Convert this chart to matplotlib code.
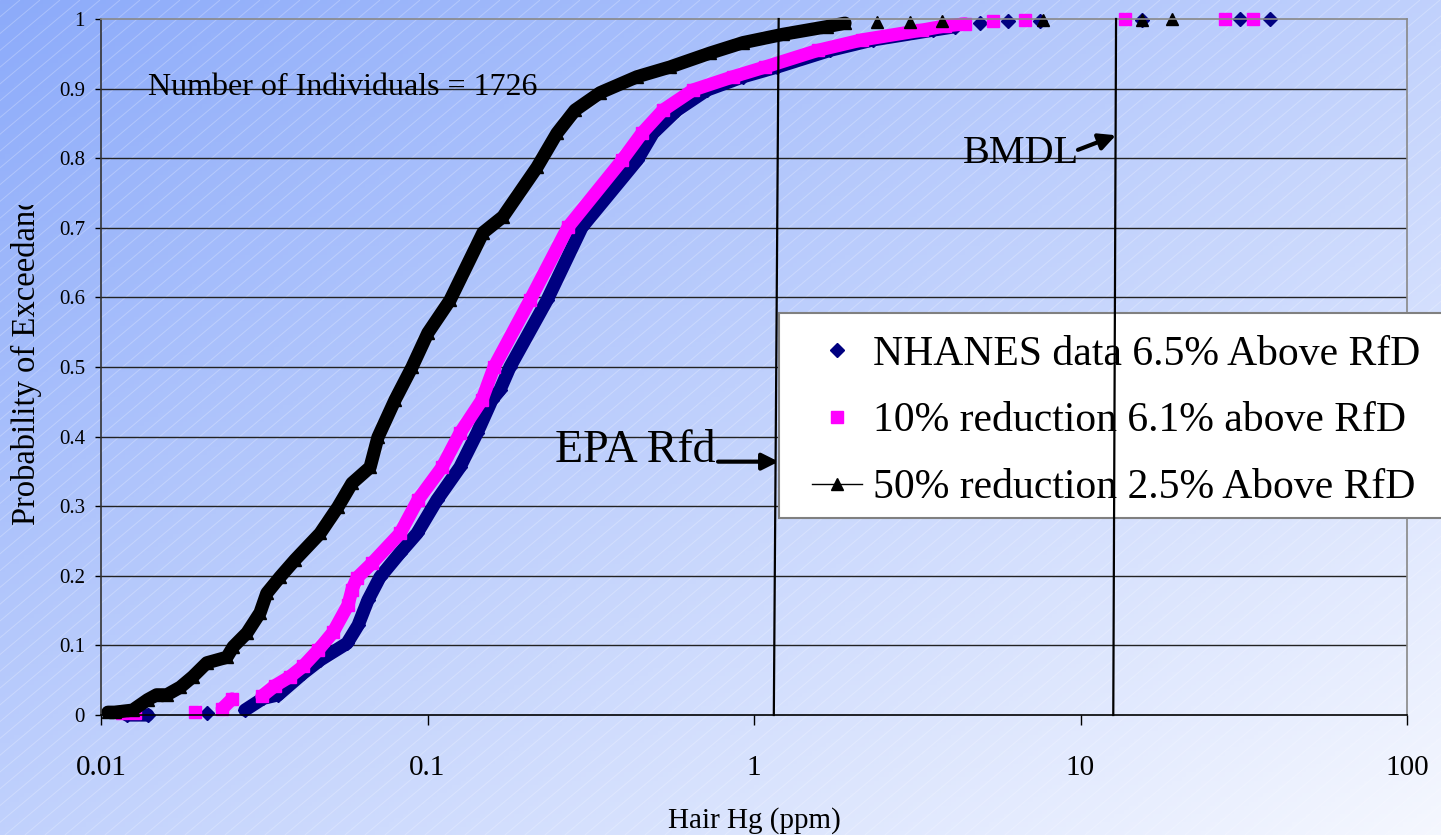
import numpy as np
import matplotlib.pyplot as plt
from matplotlib.lines import Line2D
from matplotlib.patches import Rectangle
from matplotlib.transforms import Bbox, TransformedBbox
from matplotlib.collections import LineCollection
from matplotlib.ticker import NullLocator

plt.rcParams['font.family'] = ['Liberation Serif', 'DejaVu Serif']

# hair Hg (ppm) and probability of exceedance
nhanes_x = [0.0120, 0.0139, 0.0211, 0.0276, 0.0314, 0.0349, 0.0416, 0.0469, 0.0567, 0.0613,
            0.0657, 0.0715, 0.0824, 0.0929, 0.1069, 0.1257, 0.1418, 0.1576, 0.1667, 0.1789,
            0.2323, 0.2973, 0.4383, 0.4906, 0.5809, 0.7180, 0.9254, 1.176, 1.709, 2.315,
            3.534, 4.127, 4.923, 6.000, 7.516, 15.43, 30.79, 38.05]
nhanes_y = [0.0, 0.0, 0.003, 0.007, 0.024, 0.029, 0.060, 0.079, 0.103, 0.129,
            0.165, 0.198, 0.233, 0.261, 0.309, 0.356, 0.405, 0.453, 0.467, 0.500,
            0.596, 0.701, 0.797, 0.836, 0.869, 0.898, 0.917, 0.931, 0.955, 0.970,
            0.984, 0.989, 0.994, 0.997, 0.997, 0.999, 1.0, 1.0]

red10_x = [0.0116, 0.0127, 0.0194, 0.0235, 0.0252, 0.0311, 0.0341, 0.0379, 0.0416, 0.0462,
           0.0514, 0.0571, 0.0587, 0.0608, 0.0676, 0.0824, 0.0935, 0.1108, 0.1257, 0.1469,
           0.1599, 0.2060, 0.2694, 0.3942, 0.4539, 0.5264, 0.6506, 0.8624, 1.081, 1.570,
           2.142, 3.269, 3.846, 4.429, 5.395, 6.761, 13.69, 27.71, 33.76]
red10_y = [0.003, 0.003, 0.004, 0.009, 0.023, 0.027, 0.042, 0.055, 0.070, 0.093,
           0.119, 0.158, 0.180, 0.197, 0.218, 0.261, 0.309, 0.356, 0.405, 0.453,
           0.500, 0.596, 0.701, 0.797, 0.836, 0.869, 0.898, 0.917, 0.931, 0.955,
           0.970, 0.984, 0.990, 0.993, 0.997, 0.998, 1.0, 1.0, 1.0]

red50_x = [0.0105, 0.0110, 0.0125, 0.0139, 0.0148, 0.0159, 0.0175, 0.0191, 0.0211, 0.0243,
           0.0254, 0.0280, 0.0307, 0.0322, 0.0353, 0.0393, 0.0469, 0.0532, 0.0587, 0.0667,
           0.0705, 0.0796, 0.0897, 0.1003, 0.1172, 0.1479, 0.1703, 0.2165, 0.2493, 0.2830,
           0.3376, 0.4383, 0.5529, 0.7333, 0.9254, 1.227, 1.673, 1.900, 2.381, 3.005,
           3.766, 7.676, 15.43, 19.07]
red50_y = [0.004, 0.004, 0.007, 0.022, 0.029, 0.029, 0.040, 0.055, 0.075, 0.083,
           0.098, 0.118, 0.147, 0.175, 0.198, 0.223, 0.261, 0.299, 0.333, 0.356,
           0.399, 0.453, 0.500, 0.549, 0.596, 0.693, 0.716, 0.787, 0.836, 0.869,
           0.894, 0.917, 0.931, 0.951, 0.966, 0.978, 0.989, 0.994, 0.995, 0.996,
           0.997, 0.998, 0.999, 1.0]

labels = ['NHANES data 6.5% Above RfD', '10% reduction 6.1% above RfD', '50% reduction 2.5% Above RfD']

rfd_x = [1.15, 1.19]      # EPA RfD line (slightly slanted in the original)
bmdl_x = [12.6, 12.85]    # BMDL line
x_ticks = [0.01, 0.1, 1, 10, 100]
x_tick_labels = ['0.01', '0.1', '1', '10', '100']
y_ticks = [0, 0.1, 0.2, 0.3, 0.4, 0.5, 0.6, 0.7, 0.8, 0.9, 1]
y_tick_labels = ['0', '0.1', '0.2', '0.3', '0.4', '0.5', '0.6', '0.7', '0.8', '0.9', '1']

W, H = 1441, 835


def with_gaps(xs, ys):
    # break the band where isolated points sit on a flat run
    out_x, out_y = [xs[0]], [ys[0]]
    for i in range(1, len(xs)):
        dl = np.log10(xs[i]) - np.log10(xs[i - 1])
        if abs(ys[i] - ys[i - 1]) < 0.01 and dl > 0.075:
            out_x.append(np.nan)
            out_y.append(np.nan)
        out_x.append(xs[i])
        out_y.append(ys[i])
    return out_x, out_y


fig = plt.figure(figsize=(W / 100, H / 100), dpi=100)

# background: diagonal gradient plus faint white hatch
bg = fig.add_axes([0, 0, 1, 1], zorder=-1)
gx, gy = np.meshgrid(np.linspace(0, 1, 300), np.linspace(0, 1, 200))
t = (gx + gy) / 2
c0 = np.array([0.55, 0.67, 0.98])
c1 = np.array([0.96, 0.97, 1.0])
img = c0[None, None, :] * (1 - t[..., None]) + c1[None, None, :] * t[..., None]
bg.imshow(img, extent=[0, 1, 0, 1], aspect='auto', origin='upper')
dx = H / np.tan(np.radians(40))
segs = [[(c / W, 0), ((c + dx) / W, 1)] for c in np.arange(-dx, W, 20)]
bg.add_collection(LineCollection(segs, colors='white', alpha=0.25, linewidths=0.7))
bg.set_xlim(0, 1)
bg.set_ylim(0, 1)
bg.axis('off')

ax = fig.add_axes([101 / W, 120 / H, 1306 / W, 696 / H])
ax.set_facecolor('none')

for gv in y_ticks[1:-1]:
    ax.axhline(gv, color='#222222', lw=1, zorder=1)

series = [(nhanes_x, nhanes_y, '#000080', 'D', 7.5),
          (red10_x, red10_y, '#FF00FF', 's', 8.5),
          (red50_x, red50_y, 'black', '^', 9)]
for xs, ys, col, mk, ms in series:
    lx, ly = with_gaps(xs, ys)
    ax.plot(lx, ly, color=col, lw=9.5, solid_capstyle='round', solid_joinstyle='round',
            zorder=2, clip_on=False)
    ax.plot(xs, ys, ls='none', marker=mk, ms=ms, color=col, mec=col, zorder=2, clip_on=False)

# legend box runs off the right edge like the original
box = Rectangle((779 / W, (H - 518) / H), 700 / W, 205 / H, transform=fig.transFigure,
                facecolor='white', edgecolor='#808080', lw=1.5, zorder=3, clip_on=False)
ax.add_artist(box)

ax.plot(rfd_x, [0, 1], color='black', lw=1.6, zorder=4, clip_on=False)
ax.plot(bmdl_x, [0, 1], color='black', lw=1.6, zorder=4, clip_on=False)

handles = [Line2D([], [], ls='none', marker='D', ms=7.5, color='#000080'),
           Line2D([], [], ls='none', marker='s', ms=8.5, color='#FF00FF'),
           Line2D([], [], ls='-', lw=1, marker='^', ms=9, color='black')]
ax.legend(handles, labels, loc='upper left', bbox_to_anchor=(812 / W, (H - 335) / H),
          bbox_transform=fig.transFigure, frameon=False, fontsize=30, handlelength=1.2,
          handletextpad=0.26, labelspacing=0.68, borderpad=0, borderaxespad=0)

ax.text(0.0139, 0.891, 'Number of Individuals = 1726', fontsize=23, va='baseline', zorder=5)
ax.text(0.2458, 0.3635, 'EPA Rfd', fontsize=33, va='baseline', zorder=5)
ax.annotate('', xy=(1.19, 0.364), xytext=(0.776, 0.364),
            arrowprops=dict(arrowstyle='-|>', lw=3, color='black', mutation_scale=25,
                            shrinkA=0, shrinkB=0), zorder=5)
ax.text(4.366, 0.793, 'BMDL', fontsize=29, va='baseline', zorder=5)
ax.annotate('', xy=(12.84, 0.833), xytext=(9.824, 0.812),
            arrowprops=dict(arrowstyle='-|>', lw=3, color='black', mutation_scale=25,
                            shrinkA=0, shrinkB=0), zorder=5)

ax.set_xscale('log')
ax.set_xlim(0.01, 100)
ax.set_ylim(0, 1)
ax.set_xticks(x_ticks)
ax.set_xticklabels(x_tick_labels)
ax.xaxis.set_minor_locator(NullLocator())
ax.set_yticks(y_ticks)
ax.set_yticklabels(y_tick_labels)
ax.tick_params(axis='x', length=7, width=1, pad=22, labelsize=21, direction='out', colors='black')
ax.tick_params(axis='y', length=4.5, width=1, pad=7, labelsize=15, direction='out', colors='black')
ax.spines['left'].set_color('#333333')
ax.spines['bottom'].set_color('black')
ax.spines['top'].set_color('#888888')
ax.spines['right'].set_color('#888888')
for s in ax.spines.values():
    s.set_linewidth(1.2)

fig.text(754 / W, (H - 828) / H, 'Hair Hg (ppm)', fontsize=21, ha='center', va='baseline')
yl = fig.text(26 / W, (H - 525) / H, 'Probability of Exceedance', fontsize=23.5,
              rotation=90, ha='center', va='bottom')
yl.set_clip_box(TransformedBbox(Bbox.from_extents(0, 0, 0.06, (H - 205) / H), fig.transFigure))
yl.set_clip_on(True)

fig.savefig('out.png', dpi=100)
